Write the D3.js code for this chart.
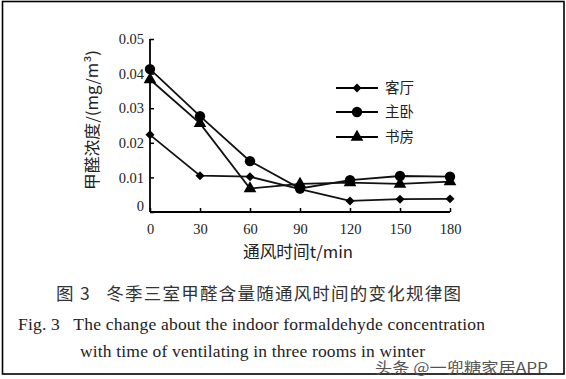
<!DOCTYPE html>
<html><head><meta charset="utf-8">
<script src="https://cdn.jsdelivr.net/npm/d3@7"></script>
<style>body{margin:0;background:#fff}svg{display:block}</style>
</head><body>
<svg id="c" width="566" height="379"></svg>
<script>
const times = [0, 30, 60, 90, 120, 150, 180];
const keting = [0.0223, 0.0105, 0.0102, 0.0066, 0.0032, 0.0037, 0.0038];
const zhuwo  = [0.0413, 0.0277, 0.0147, 0.0068, 0.0092, 0.0104, 0.0102];
const shufang = [0.0383, 0.0256, 0.0068, 0.0081, 0.0085, 0.0081, 0.0088];
const seriesNames = ["客厅", "主卧", "书房"];
const yTicks = [0, 0.01, 0.02, 0.03, 0.04, 0.05];
const yTickLabels = ["0", "0.01", "0.02", "0.03", "0.04", "0.05"];
const xTicks = [0, 30, 60, 90, 120, 150, 180];

const svg = d3.select("#c");
const serif = "'Liberation Serif','Times New Roman',serif";
const cjk = "'Noto Sans CJK SC',sans-serif";

// frame
svg.append("rect").attr("x", 2.5).attr("y", 1.5).attr("width", 561.5).attr("height", 372.5)
  .attr("fill", "none").attr("stroke", "#000").attr("stroke-width", 1.6);

const x = d3.scaleLinear().domain([0, 180]).range([150, 450]);
const y = d3.scaleLinear().domain([0, 0.05]).range([212, 39]);

const g = svg.append("g");
const yAxis = d3.axisLeft(y).tickValues(yTicks).tickSize(-4).tickPadding(14)
  .tickFormat((d, i) => yTickLabels[i]);
const ya = g.append("g").attr("transform", "translate(150,0)").call(yAxis);
const xAxis = d3.axisBottom(x).tickValues(xTicks).tickSize(-4).tickPadding(12);
const xa = g.append("g").attr("transform", "translate(0,212)").call(xAxis);
[ya, xa].forEach(a => {
  a.select(".domain").attr("stroke", "#000").attr("stroke-width", 1.8);
  a.selectAll(".tick line").attr("stroke", "#000").attr("stroke-width", 1.5);
  a.selectAll("text").attr("font-family", serif).attr("font-size", 14.5).attr("fill", "#222");
});
ya.select(".domain").attr("d", "M0," + y(0.05) + "V" + y(0));
xa.select(".domain").attr("d", "M" + x(0) + ",0H" + x(180));
ya.selectAll(".tick text").attr("x", -6);
ya.selectAll(".tick").filter(d => d === 0).select("text").attr("dy", "-0.1em");

const diamond = {draw(ctx, size) { const r = Math.sqrt(size / 2); ctx.moveTo(0, -r); ctx.lineTo(r, 0); ctx.lineTo(0, r); ctx.lineTo(-r, 0); ctx.closePath(); }};
const series = [
  {name: seriesNames[0], vals: keting, sym: diamond, size: 40},
  {name: seriesNames[1], vals: zhuwo, sym: d3.symbolCircle, size: 85},
  {name: seriesNames[2], vals: shufang, sym: d3.symbolTriangle, size: 70}
];
const line = d3.line().x((d, i) => x(times[i])).y(d => y(d));
series.forEach(s => {
  g.append("path").attr("d", line(s.vals)).attr("fill", "none")
    .attr("stroke", "#111").attr("stroke-width", 1.8);
  g.selectAll(null).data(s.vals).enter().append("path")
    .attr("d", d3.symbol().type(s.sym).size(s.size))
    .attr("transform", (d, i) => `translate(${x(times[i])},${y(d)})`)
    .attr("fill", "#000");
});

const legY = [88, 112, 137];
series.forEach((s, i) => {
  const lg = g.append("g").attr("transform", `translate(336,${legY[i]})`);
  lg.append("line").attr("x1", 0).attr("x2", 42).attr("y1", 0).attr("y2", 0)
    .attr("stroke", "#000").attr("stroke-width", 2);
  lg.append("path").attr("d", d3.symbol().type(s.sym).size(s.size)).attr("transform", "translate(21,0)");
  lg.append("text").attr("x", 49).attr("y", 5).text(s.name)
    .attr("font-family", cjk).attr("font-size", 14.5).attr("fill", "#222");
});

svg.append("text").attr("transform", "translate(98,120) rotate(-90)")
  .attr("text-anchor", "middle").attr("font-family", cjk).attr("font-size", 15.5).attr("fill", "#222")
  .attr("textLength", 140).attr("lengthAdjust", "spacingAndGlyphs")
  .text("甲醛浓度/(mg/m³)");
svg.append("text").attr("x", 298).attr("y", 258).attr("text-anchor", "middle")
  .attr("font-family", cjk).attr("font-size", 16.5).attr("fill", "#222")
  .attr("textLength", 110).attr("lengthAdjust", "spacingAndGlyphs")
  .text("通风时间t/min");

svg.append("text").attr("x", 56).attr("y", 300).attr("font-family", cjk).attr("font-size", 17.5)
  .attr("fill", "#333").attr("xml:space", "preserve")
  .attr("textLength", 405).attr("lengthAdjust", "spacing")
  .text("图 3   冬季三室甲醛含量随通风时间的变化规律图");
svg.append("text").attr("x", 18).attr("y", 330).attr("font-family", serif).attr("font-size", 17.5)
  .attr("fill", "#222").attr("xml:space", "preserve")
  .attr("textLength", 467).attr("lengthAdjust", "spacing")
  .text("Fig. 3   The change about the indoor formaldehyde concentration");
svg.append("text").attr("x", 80).attr("y", 357).attr("font-family", serif).attr("font-size", 17.5)
  .attr("fill", "#222").attr("textLength", 345).attr("lengthAdjust", "spacing")
  .text("with time of ventilating in three rooms in winter");
svg.append("text").attr("x", 375).attr("y", 373).attr("font-family", cjk).attr("font-size", 14.5)
  .attr("fill", "#555").attr("textLength", 173).attr("lengthAdjust", "spacingAndGlyphs")
  .text("头条 @一兜糖家居APP");
</script>
</body></html>
